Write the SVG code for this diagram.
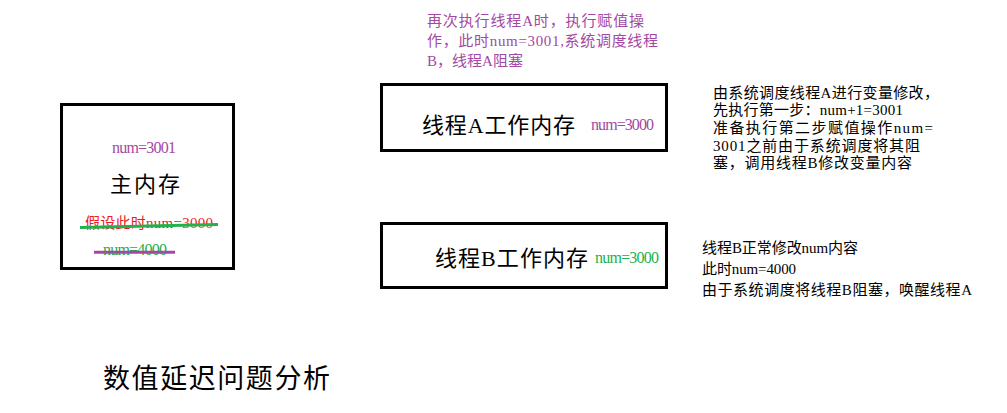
<svg xmlns="http://www.w3.org/2000/svg" width="1007" height="413" viewBox="0 0 1007 413">
<style>
text{font-family:"Liberation Serif","Noto Sans CJK SC",serif;}
.box{fill:#fff;stroke:#000;stroke-width:3;}
.big{font-size:22px;fill:#000;}
.sm{font-size:15px;}
.lat{font-size:16px;}
.note{font-size:15px;fill:#000;}
.pur{fill:#A349A4;}
.grn{fill:#22B14C;}
.red{fill:#ED1C24;}
</style>
<rect width="1007" height="413" fill="#fff"/>
<g id="main-memory">
<rect class="box" x="61.5" y="104.5" width="172" height="164"/>
<text class="lat pur" x="112" y="153" textLength="64">num=3001</text>
<text class="big" x="110" y="192" textLength="70">主内存</text>
<text class="sm red" x="85" y="228" textLength="128">假设此时num=3000</text>
<text class="lat grn" x="103" y="255" textLength="64">num=4000</text>
<line x1="80" y1="227.5" x2="218" y2="224.5" stroke="#22B14C" stroke-width="3"/>
<line x1="94" y1="252.3" x2="175" y2="252.3" stroke="#A349A4" stroke-width="3"/>
</g>
<g id="thread-a">
<rect class="box" x="381.5" y="84.5" width="285" height="66"/>
<text class="big" x="422" y="133" textLength="153">线程A工作内存</text>
<text class="lat pur" x="591" y="130" textLength="63">num=3000</text>
</g>
<g id="thread-b">
<rect class="box" x="381.5" y="223.5" width="285" height="64"/>
<text class="big" x="435" y="266" textLength="153">线程B工作内存</text>
<text class="lat grn" x="595" y="263" textLength="64">num=3000</text>
</g>
<g id="note-a-top">
<text class="sm pur" x="427" y="26" textLength="217">再次执行线程A时，执行赋值操</text>
<text class="sm pur" x="427" y="46" textLength="231">作，此时num=3001,系统调度线程</text>
<text class="sm pur" x="427" y="66" textLength="96">B，线程A阻塞</text>
</g>
<g id="note-a-right">
<text class="note" x="713" y="98" textLength="226">由系统调度线程A进行变量修改，</text>
<text class="note" x="713" y="115" textLength="190">先执行第一步：num+1=3001</text>
<text class="note" x="713" y="133" textLength="220">准备执行第二步赋值操作num=</text>
<text class="note" x="713" y="151" textLength="207">3001之前由于系统调度将其阻</text>
<text class="note" x="713" y="168" textLength="199">塞，调用线程B修改变量内容</text>
</g>
<g id="note-b-right">
<text class="note" x="702" y="253" textLength="156">线程B正常修改num内容</text>
<text class="note" x="702" y="274" textLength="94">此时num=4000</text>
<text class="note" x="702" y="295" textLength="270">由于系统调度将线程B阻塞，唤醒线程A</text>
</g>
<g id="connectors"></g>
<g id="title">
<text x="103" y="388" font-size="27" fill="#000" textLength="227">数值延迟问题分析</text>
</g>
</svg>
